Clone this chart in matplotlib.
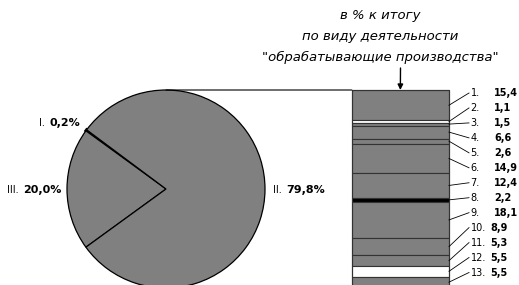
import matplotlib
matplotlib.use("Agg")
import matplotlib.pyplot as plt
from matplotlib.patches import ConnectionPatch
import numpy as np

plt.rcParams['font.family'] = ['DejaVu Sans']

# Data
pie_labels = ["I.", "III.", "II."]
pie_values = [0.2, 20.0, 79.8]
pie_value_text = ["0,2%", "20,0%", "79,8%"]

bar_numbers = ["1.", "2.", "3.", "4.", "5.", "6.", "7.", "8.", "9.", "10.", "11.", "12.", "13."]
bar_values = [15.4, 1.1, 1.5, 6.6, 2.6, 14.9, 12.4, 2.2, 18.1, 8.9, 5.3, 5.5, 5.5]
bar_value_text = ["15,4", "1,1", "1,5", "6,6", "2,6", "14,9", "12,4", "2,2", "18,1", "8,9", "5,3", "5,5", "5,5"]
bar_colors = ["#808080", "#ffffff", "#808080", "#808080", "#808080", "#808080", "#808080",
              "#000000", "#808080", "#808080", "#808080", "#ffffff", "#808080"]

title_lines = ["в % к итогу", "по виду деятельности", "\"обрабатывающие производства\""]

W, H = 519, 285
fig = plt.figure(figsize=(W / 100, H / 100), dpi=100)
fig.patch.set_facecolor("white")

def fx(x):
    return x / W

def fy(y):
    return 1 - y / H

# Pie axes
cx, cy, r = 166, 189, 99
pax = fig.add_axes([fx(cx - r), fy(cy + r), 2 * r / W, 2 * r / H])
start = 144 - 360 * pie_values[0] / 100
wedges, _ = pax.pie(pie_values, startangle=start, counterclock=True, radius=1,
                    colors=["#000000", "#808080", "#808080"],
                    wedgeprops=dict(edgecolor="black", linewidth=0.9))
wedges[0].set_linewidth(2.2)
pax.set_xlim(-1, 1)
pax.set_ylim(-1, 1)
pax.set_aspect("equal")
pax.axis("off")
for w in wedges:
    w.set_clip_on(False)

# Pie labels (pixel positions)
pie_label_pos = [(39, 123), (7, 190), (273, 190)]
for (lab, val, (x, y)) in zip(pie_labels, pie_value_text, pie_label_pos):
    t = fig.text(fx(x), fy(y), lab + " ", fontsize=7, ha="left", va="center",
                 family="Liberation Sans Narrow")
    fig.canvas.draw()
    bb = t.get_window_extent()
    fig.text(bb.x1 / W + 1.5 / W, fy(y), val, fontsize=8, fontweight="bold", ha="left", va="center")

# Bar axes
bx0, bx1, by0 = 351.7, 449, 90
scale = 1.976  # px per percent
bax = fig.add_axes([fx(bx0), fy(by0 + 100 * scale), (bx1 - bx0) / W, 100 * scale / H])
bax.set_xlim(-0.5, 0.5)
bax.set_ylim(100, 0)
bax.axis("off")
cum = np.concatenate([[0], np.cumsum(bar_values)[:-1]])
bax.bar([0] * len(bar_values), bar_values, bottom=cum, width=1.0, color=bar_colors,
        edgecolor="#333333", linewidth=0.8, clip_on=False)
bax.plot([-0.5, 0.5, 0.5, -0.5, -0.5], [0, 0, 100, 100, 0], color="#333333", lw=0.8, clip_on=False)

# Bar labels with leader lines
px_per_x = bx1 - bx0
lab_y_px = np.linspace(93, 272.5, len(bar_values))
for i, (num, val, v, c) in enumerate(zip(bar_numbers, bar_value_text, bar_values, cum)):
    ty = (lab_y_px[i] - by0) / scale
    mid = c + v / 2
    tx = 0.5 + (469 - bx1) / px_per_x
    bax.plot([0.5, tx], [mid, ty], color="black", lw=0.6, clip_on=False)
    bax.text(0.5 + (470.5 - bx1) / px_per_x, ty, num, fontsize=7, ha="left", va="center", clip_on=False)
    vx = 494 if i < 9 else 490
    bax.text(0.5 + (vx - bx1) / px_per_x, ty, val, fontsize=7, fontweight="bold",
             ha="left", va="center", clip_on=False)

# Connection line from pie top to bar top-left
con = ConnectionPatch(xyA=(0, 1), coordsA=pax.transData, xyB=(-0.5, 0), coordsB=bax.transData,
                      color="black", lw=0.8)
fig.add_artist(con)

# Arrow to bar top
fig.add_artist(ConnectionPatch(xyA=(fx(400.5), fy(68)), coordsA=fig.transFigure,
                               xyB=(0, 0), coordsB=bax.transData,
                               arrowstyle="-|>", mutation_scale=8, color="black", lw=1.0))

# Title
for line, y in zip(title_lines, [15, 36.5, 57.5]):
    fig.text(fx(380), fy(y), line, fontsize=9.5, fontstyle="italic", ha="center", va="center")

fig.savefig("out.png", dpi=100)
